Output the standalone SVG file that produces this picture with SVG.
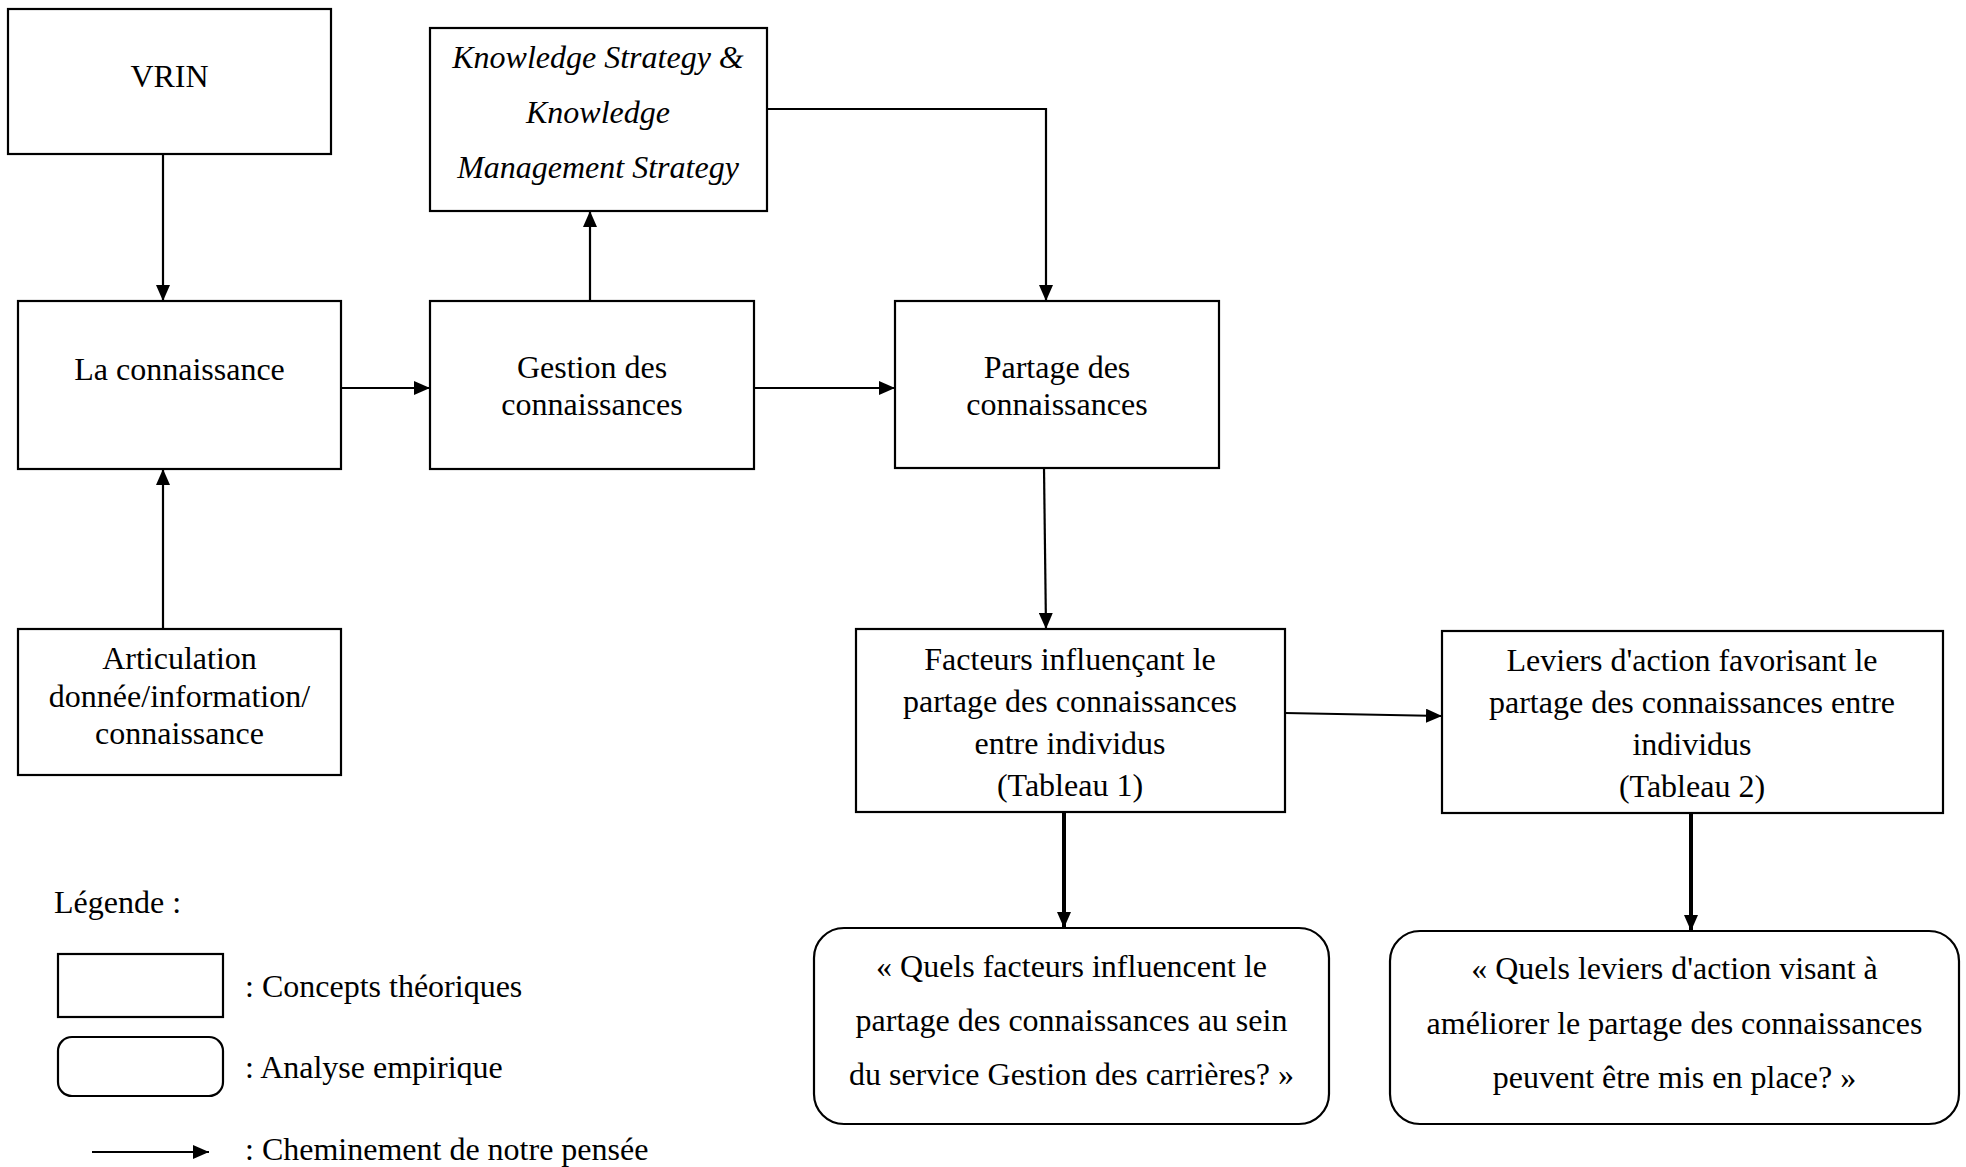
<svg xmlns="http://www.w3.org/2000/svg" width="1966" height="1167" viewBox="0 0 1966 1167">
<defs>
<style>
.box{fill:#fff;stroke:#000;stroke-width:2.2}
.t{font-family:"Liberation Serif","Times New Roman",serif;font-size:32px;fill:#000;text-anchor:middle}
.it{font-style:italic}
.lg{text-anchor:start}
.c{fill:none;stroke:#000;stroke-width:2.2}
.ck{fill:none;stroke:#000;stroke-width:4}
</style>
<marker id="ah" markerUnits="userSpaceOnUse" markerWidth="16" markerHeight="14" refX="16" refY="7" orient="auto">
<path d="M0,0 L16,7 L0,14 Z" fill="#000"/>
</marker>
</defs>
<rect width="1966" height="1167" fill="#fff"/>

<g id="connectors">
<line class="c" x1="163" y1="154" x2="163" y2="301" marker-end="url(#ah)"/>
<line class="c" x1="163" y1="629" x2="163" y2="469" marker-end="url(#ah)"/>
<line class="c" x1="341" y1="388" x2="430" y2="388" marker-end="url(#ah)"/>
<line class="c" x1="590" y1="301" x2="590" y2="211" marker-end="url(#ah)"/>
<line class="c" x1="754" y1="388" x2="895" y2="388" marker-end="url(#ah)"/>
<polyline class="c" points="767,109 1046,109 1046,301" marker-end="url(#ah)"/>
<line class="c" x1="1044" y1="468" x2="1046" y2="629" marker-end="url(#ah)"/>
<line class="c" x1="1285" y1="713" x2="1442" y2="716" marker-end="url(#ah)"/>
<line class="ck" x1="1064" y1="812" x2="1064" y2="928" marker-end="url(#ah)"/>
<line class="ck" x1="1691" y1="813" x2="1691" y2="931" marker-end="url(#ah)"/>
</g>

<g id="vrin">
<rect class="box" x="8" y="9" width="323" height="145"/>
<text class="t" x="169.5" y="87">VRIN</text>
</g>

<g id="connaissance">
<rect class="box" x="18" y="301" width="323" height="168"/>
<text class="t" x="179.5" y="380">La connaissance</text>
</g>

<g id="strategy">
<rect class="box" x="430" y="28" width="337" height="183"/>
<text class="t it" x="598" y="68">Knowledge Strategy &amp;</text>
<text class="t it" x="598" y="123">Knowledge</text>
<text class="t it" x="598" y="178">Management Strategy</text>
</g>

<g id="gestion">
<rect class="box" x="430" y="301" width="324" height="168"/>
<text class="t" x="592" y="378">Gestion des</text>
<text class="t" x="592" y="415">connaissances</text>
</g>

<g id="partage">
<rect class="box" x="895" y="301" width="324" height="167"/>
<text class="t" x="1057" y="378">Partage des</text>
<text class="t" x="1057" y="415">connaissances</text>
</g>

<g id="articulation">
<rect class="box" x="18" y="629" width="323" height="146"/>
<text class="t" x="179.5" y="669">Articulation</text>
<text class="t" x="179.5" y="707">donnée/information/</text>
<text class="t" x="179.5" y="744">connaissance</text>
</g>

<g id="facteurs">
<rect class="box" x="856" y="629" width="429" height="183"/>
<text class="t" x="1070" y="670">Facteurs influençant le</text>
<text class="t" x="1070" y="712">partage des connaissances</text>
<text class="t" x="1070" y="754">entre individus</text>
<text class="t" x="1070" y="796">(Tableau 1)</text>
</g>

<g id="leviers">
<rect class="box" x="1442" y="631" width="501" height="182"/>
<text class="t" x="1692" y="671">Leviers d'action favorisant le</text>
<text class="t" x="1692" y="713">partage des connaissances entre</text>
<text class="t" x="1692" y="755">individus</text>
<text class="t" x="1692" y="797">(Tableau 2)</text>
</g>

<g id="question-facteurs">
<rect class="box" x="814" y="928" width="515" height="196" rx="30" ry="30"/>
<text class="t" x="1071.5" y="977">« Quels facteurs influencent le</text>
<text class="t" x="1071.5" y="1031">partage des connaissances au sein</text>
<text class="t" x="1071.5" y="1085">du service Gestion des carrières? »</text>
</g>

<g id="question-leviers">
<rect class="box" x="1390" y="931" width="569" height="193" rx="30" ry="30"/>
<text class="t" x="1674.5" y="979">« Quels leviers d'action visant à</text>
<text class="t" x="1674.5" y="1034">améliorer le partage des connaissances</text>
<text class="t" x="1674.5" y="1088">peuvent être mis en place? »</text>
</g>

<g id="legende">
<text class="t lg" x="54" y="913">Légende :</text>
<rect class="box" x="58" y="954" width="165" height="63"/>
<text class="t lg" x="245" y="997">: Concepts théoriques</text>
<rect class="box" x="58" y="1037" width="165" height="59" rx="14" ry="14"/>
<text class="t lg" x="245" y="1078">: Analyse empirique</text>
<line class="c" x1="92" y1="1152" x2="209" y2="1152" stroke-width="3" marker-end="url(#ah)"/>
<text class="t lg" x="245" y="1160">: Cheminement de notre pensée</text>
</g>
</svg>
